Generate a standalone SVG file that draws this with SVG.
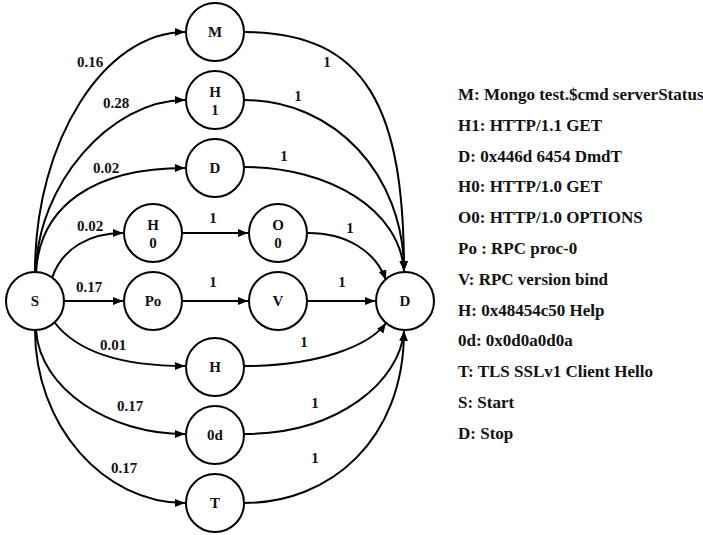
<svg xmlns="http://www.w3.org/2000/svg" width="703" height="535" viewBox="0 0 703 535">
<defs>
<marker id="arr" markerUnits="userSpaceOnUse" markerWidth="11" markerHeight="9" refX="10" refY="4" orient="auto">
<path d="M0,0 L10,4 L0,8 z" fill="#000"/>
</marker>
<style>
.n circle{fill:#fff;stroke:#000;stroke-width:2}
text{font-family:"Liberation Serif","Times New Roman",serif;font-weight:bold;fill:#111}
.n text{font-size:15px;text-anchor:middle}
.e path{fill:none;stroke:#000;stroke-width:2;marker-end:url(#arr)}
.lb{font-size:15px;text-anchor:middle}
.lg{font-size:17px}
</style>
</defs>
<rect width="703" height="535" fill="#fff"/>
<g id="connectors" class="e">
<path d="M35,272 C35,140 105,32 185,32"/>
<path d="M36,272 C37,185 110,100 185,100"/>
<path d="M36,272 C40,205 95,168 185,168"/>
<path d="M52,278 C62,248 90,233 123,233"/>
<path d="M64,301 L123,301"/>
<path d="M55,323 C80,355 130,366 185,366"/>
<path d="M36,330 C40,390 110,434 185,434"/>
<path d="M35,330 C35,425 103,503 185,503"/>
<path d="M183,233 L248,233"/>
<path d="M183,301 L248,301"/>
<path d="M244,32 C368,32 404,110 404,271"/>
<path d="M244,100 C335,100 404,175 404,271"/>
<path d="M244,167 C330,167 400,210 404,271"/>
<path d="M308,233 C345,233 375,250 386,280"/>
<path d="M308,301 L375,301"/>
<path d="M244,366 C320,366 370,345 386,323"/>
<path d="M244,434 C340,434 400,380 404,331"/>
<path d="M244,503 C330,503 404,440 404,331"/>
</g>
<g id="edge-labels">
<text class="lb" x="90" y="67">0.16</text>
<text class="lb" x="116" y="108">0.28</text>
<text class="lb" x="106" y="173">0.02</text>
<text class="lb" x="90" y="231">0.02</text>
<text class="lb" x="89" y="292">0.17</text>
<text class="lb" x="113" y="350">0.01</text>
<text class="lb" x="130" y="411">0.17</text>
<text class="lb" x="124" y="473">0.17</text>
<text class="lb" x="327" y="67">1</text>
<text class="lb" x="298" y="101">1</text>
<text class="lb" x="284" y="161">1</text>
<text class="lb" x="213" y="223">1</text>
<text class="lb" x="350" y="233">1</text>
<text class="lb" x="213" y="287">1</text>
<text class="lb" x="342" y="287">1</text>
<text class="lb" x="304" y="347">1</text>
<text class="lb" x="315" y="408">1</text>
<text class="lb" x="315" y="463">1</text>
</g>
<g id="node-S" class="n"><circle cx="35" cy="301" r="29"/><text x="35" y="306">S</text></g>
<g id="node-M" class="n"><circle cx="215" cy="32" r="29"/><text x="215" y="37">M</text></g>
<g id="node-H1" class="n"><circle cx="215" cy="100" r="29"/><text x="215" y="97">H</text><text x="215" y="115">1</text></g>
<g id="node-D" class="n"><circle cx="215" cy="168" r="29"/><text x="215" y="173">D</text></g>
<g id="node-H0" class="n"><circle cx="153" cy="233" r="29"/><text x="153" y="230">H</text><text x="153" y="248">0</text></g>
<g id="node-O0" class="n"><circle cx="278" cy="233" r="29"/><text x="278" y="230">O</text><text x="278" y="248">0</text></g>
<g id="node-Po" class="n"><circle cx="153" cy="301" r="29"/><text x="153" y="306">Po</text></g>
<g id="node-V" class="n"><circle cx="278" cy="301" r="29"/><text x="278" y="306">V</text></g>
<g id="node-Stop" class="n"><circle cx="405" cy="301" r="29"/><text x="405" y="306">D</text></g>
<g id="node-H" class="n"><circle cx="215" cy="367" r="29"/><text x="215" y="372">H</text></g>
<g id="node-0d" class="n"><circle cx="215" cy="435" r="29"/><text x="215" y="440">0d</text></g>
<g id="node-T" class="n"><circle cx="215" cy="503" r="29"/><text x="215" y="508">T</text></g>
<g id="legend">
<text class="lg" x="458" y="100">M: Mongo test.$cmd serverStatus</text>
<text class="lg" x="458" y="130.8">H1: HTTP/1.1 GET</text>
<text class="lg" x="458" y="161.6">D: 0x446d 6454 DmdT</text>
<text class="lg" x="458" y="192.4">H0: HTTP/1.0 GET</text>
<text class="lg" x="458" y="223.2">O0: HTTP/1.0 OPTIONS</text>
<text class="lg" x="458" y="254">Po : RPC proc-0</text>
<text class="lg" x="458" y="284.8">V: RPC version bind</text>
<text class="lg" x="458" y="315.6">H: 0x48454c50 Help</text>
<text class="lg" x="458" y="346.4">0d: 0x0d0a0d0a</text>
<text class="lg" x="458" y="377.2">T: TLS SSLv1 Client Hello</text>
<text class="lg" x="458" y="408">S: Start</text>
<text class="lg" x="458" y="438.8">D: Stop</text>
</g>
</svg>
